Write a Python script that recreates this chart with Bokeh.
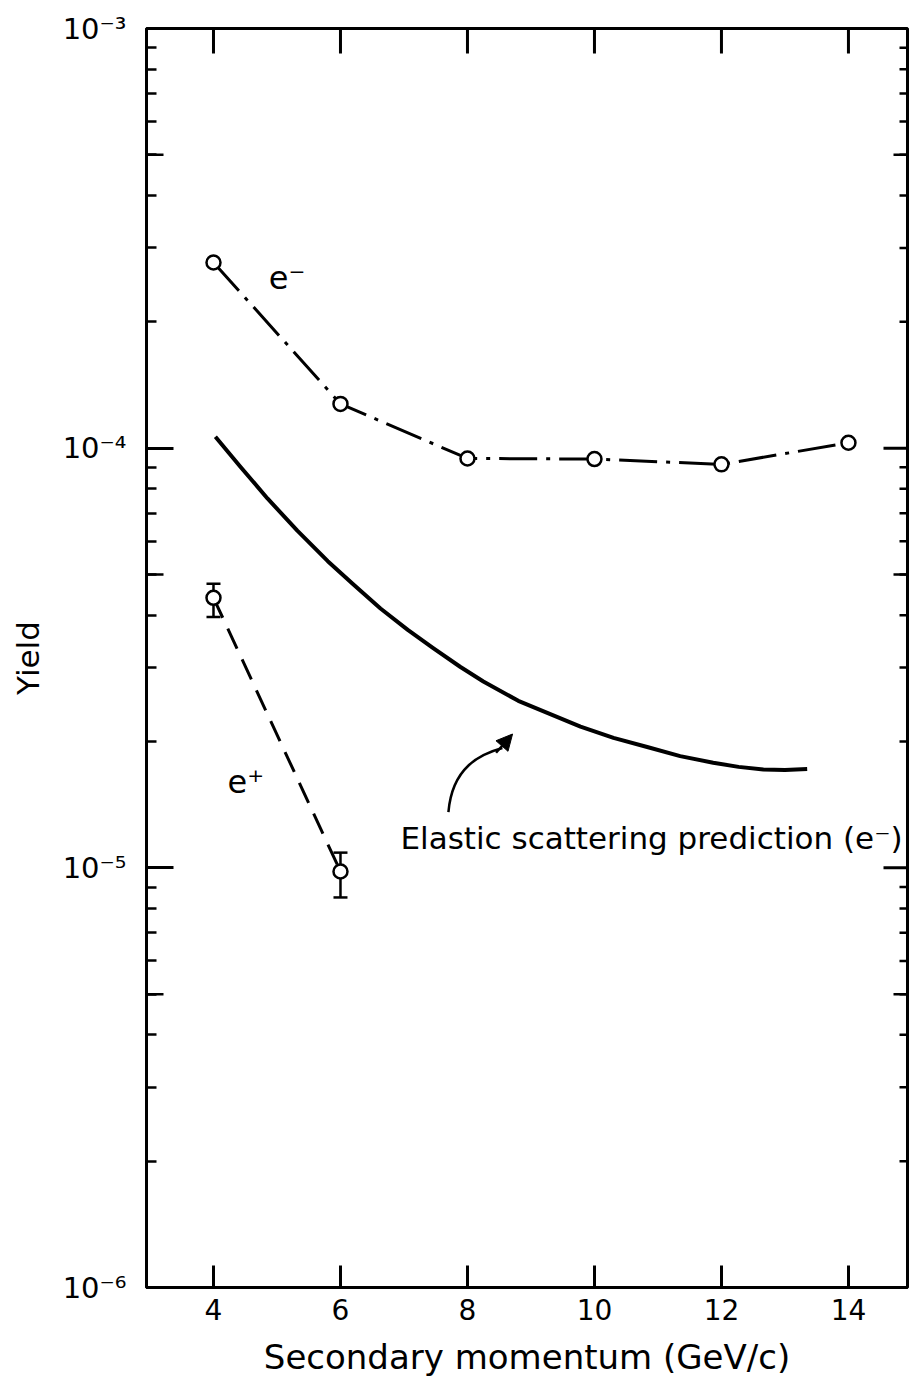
from bokeh.plotting import figure
from bokeh.models import (Range1d, FixedTicker, Whisker, TeeHead,
                          ColumnDataSource, Label, Arrow, NormalHead, CustomJSTickFormatter)
from bokeh.embed import file_html
from bokeh.resources import INLINE

# ---------------- data ----------------
e_minus_x = [4, 6, 8, 10, 12, 14]
e_minus_y = [2.77e-4, 1.275e-4, 9.45e-5, 9.42e-5, 9.15e-5, 1.03e-4]

e_plus_x = [4, 6]
e_plus_y = [4.40e-5, 9.8e-6]
e_plus_upper = [4.75e-5, 1.087e-5]
e_plus_lower = [3.96e-5, 8.5e-6]

elastic_x = [4.03, 4.43, 4.85, 5.32, 5.80, 6.20, 6.63, 7.06, 7.46, 7.89, 8.25, 8.80,
             9.78, 10.30, 10.83, 11.35, 11.87, 12.27, 12.66, 13.00, 13.35]
elastic_y = [1.065e-4, 9.01e-5, 7.59e-5, 6.36e-5, 5.38e-5, 4.74e-5, 4.15e-5, 3.69e-5,
             3.34e-5, 3.01e-5, 2.78e-5, 2.50e-5, 2.17e-5, 2.04e-5, 1.94e-5, 1.846e-5,
             1.78e-5, 1.74e-5, 1.715e-5, 1.71e-5, 1.72e-5]

x_ticks = [4, 6, 8, 10, 12, 14]
y_major = [1e-6, 1e-5, 1e-4, 1e-3]
y_tick_labels = ["10⁻⁶", "10⁻⁵", "10⁻⁴", "10⁻³"]
y_minor = [k * d for d in [1e-6, 1e-5, 1e-4] for k in range(2, 10)]
y_five = [5 * d for d in [1e-6, 1e-5, 1e-4]]

x_title = "Secondary momentum (GeV/c)"
y_title = "Yield"
label_e_minus = "e⁻"
label_e_plus = "e⁺"
label_elastic = "Elastic scattering prediction (e⁻)"

FONT = "DejaVu Sans"
X_LO, X_HI = 2.945, 14.93
Y_LO, Y_HI = 1e-6, 1e-3
FRAME_W, FRAME_H = 761.0, 1259.0

# ---------------- figure ----------------
p = figure(width=910, height=1386, x_range=Range1d(X_LO, X_HI), y_range=Range1d(Y_LO, Y_HI),
           y_axis_type="log", output_backend="svg", toolbar_location=None,
           min_border_left=146, min_border_right=3, min_border_top=28, min_border_bottom=99)
p.outline_line_color = "black"
p.outline_line_width = 3
p.grid.visible = False
p.background_fill_color = "white"
p.border_fill_color = "white"

ppu_x = FRAME_W / (X_HI - X_LO)          # pixels per x unit
ppd_y = FRAME_H / 3.0                     # pixels per decade

fmt = CustomJSTickFormatter(args=dict(labels=y_tick_labels),
                            code="const e = Math.round(Math.log10(tick)); return labels[e + 6];")

xa = p.xaxis[0]
xa.ticker = FixedTicker(ticks=x_ticks, minor_ticks=[])
xa.axis_line_width = 3
xa.major_tick_in = 22
xa.major_tick_out = 0
xa.major_tick_line_width = 3
xa.minor_tick_in = 0
xa.minor_tick_out = 0
xa.major_label_text_font = FONT
xa.major_label_text_font_size = "28px"
xa.major_label_text_color = "black"
xa.major_label_standoff = 11
xa.axis_label = x_title
xa.axis_label_text_font = FONT
xa.axis_label_text_font_size = "34px"
xa.axis_label_text_font_style = "normal"
xa.axis_label_text_color = "black"
xa.axis_label_standoff = 14

ya = p.yaxis[0]
ya.ticker = FixedTicker(ticks=y_major, minor_ticks=y_minor)
ya.formatter = fmt
ya.axis_line_width = 3
ya.major_tick_in = 27
ya.major_tick_out = 0
ya.major_tick_line_width = 3
ya.minor_tick_in = 10
ya.minor_tick_out = 0
ya.minor_tick_line_width = 2.5
ya.major_label_text_font = FONT
ya.major_label_text_font_size = "29px"
ya.major_label_text_color = "black"
ya.major_label_standoff = 20
ya.axis_label = y_title
ya.axis_label_text_font = FONT
ya.axis_label_text_font_size = "31px"
ya.axis_label_text_font_style = "normal"
ya.axis_label_text_color = "black"
ya.axis_label_standoff = 14

# medium-length ticks at 5x10^n on the left
p.segment(x0=[X_LO] * len(y_five), y0=y_five, x1=[X_LO + 17 / ppu_x] * len(y_five), y1=y_five,
          line_color="black", line_width=2.5)

# mirrored ticks on the right side (drawn inward)
r_major = [v for v in y_major if Y_LO < v < Y_HI]
p.segment(x0=[X_HI] * len(r_major), y0=r_major, x1=[X_HI - 24 / ppu_x] * len(r_major), y1=r_major,
          line_color="black", line_width=3)
p.segment(x0=[X_HI] * len(y_minor), y0=y_minor, x1=[X_HI - 8 / ppu_x] * len(y_minor), y1=y_minor,
          line_color="black", line_width=2.5)
p.segment(x0=[X_HI] * len(y_five), y0=y_five, x1=[X_HI - 14 / ppu_x] * len(y_five), y1=y_five,
          line_color="black", line_width=2.5)

# ticks along the top (drawn downward)
top_len = 10 ** (-25 / ppd_y)
p.segment(x0=x_ticks, y0=[Y_HI] * len(x_ticks), x1=x_ticks, y1=[Y_HI * top_len] * len(x_ticks),
          line_color="black", line_width=3)

# ---------------- series ----------------
p.line(elastic_x, elastic_y, line_color="black", line_width=4, line_join="round")

p.line(e_minus_x, e_minus_y, line_color="black", line_width=3, line_dash="38 9 4 9")
p.scatter(e_minus_x, e_minus_y, marker="circle", size=14, fill_color="white",
          line_color="black", line_width=2.5)

p.line(e_plus_x, e_plus_y, line_color="black", line_width=3, line_dash="22 12")
src = ColumnDataSource(dict(x=e_plus_x, y=e_plus_y, upper=e_plus_upper, lower=e_plus_lower))
p.add_layout(Whisker(source=src, base="x", upper="upper", lower="lower",
                     line_color="black", line_width=2.5,
                     upper_head=TeeHead(size=14, line_width=2.5, line_color="black"),
                     lower_head=TeeHead(size=14, line_width=2.5, line_color="black")))
p.scatter(e_plus_x, e_plus_y, marker="circle", size=14, fill_color="white",
          line_color="black", line_width=2.5)

# ---------------- annotations ----------------
p.add_layout(Label(x=4.87, y=2.55e-4, text=label_e_minus, text_font=FONT,
                   text_font_size="32px", text_baseline="alphabetic", text_color="black"))
p.add_layout(Label(x=4.22, y=1.6e-5, text=label_e_plus, text_font=FONT,
                   text_font_size="32px", text_baseline="alphabetic", text_color="black"))
p.add_layout(Label(x=6.945, y=1.177e-5, text=label_elastic, text_font=FONT,
                   text_font_size="31px", text_baseline="alphabetic", text_color="black"))

# curved pointer arrow
p.bezier(x0=[7.70], y0=[1.358e-5], x1=[8.55], y1=[1.93e-5],
         cx0=[7.76], cy0=[1.738e-5], cx1=[8.20], cy1=[1.866e-5],
         line_color="black", line_width=2.5)
p.add_layout(Arrow(end=NormalHead(size=16, fill_color="black", line_color="black"),
                   x_start=8.45, y_start=1.88e-5, x_end=8.71, y_end=2.084e-5,
                   line_color="black", line_width=2.5))

open("out.html", "w").write(file_html(p, INLINE))
